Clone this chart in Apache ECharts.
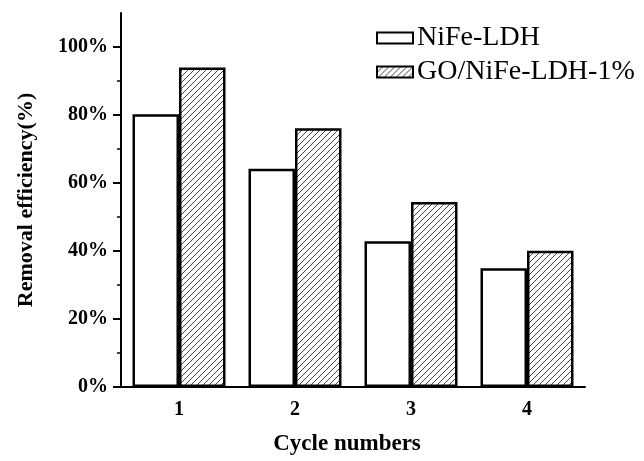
<!DOCTYPE html>
<html>
<head>
<meta charset="utf-8">
<script src="https://cdn.jsdelivr.net/npm/echarts@6/dist/echarts.min.js"></script>
<style>
  html, body { margin: 0; padding: 0; background: #fff; }
  #chart { width: 644px; height: 461px; }
</style>
</head>
<body>
<div id="chart"></div>
<script>
// Removal efficiency over repeated cycles
const cycles = ['1', '2', '3', '4'];
const nifeLdh = [80.2, 64.2, 42.9, 34.9];
const goNifeLdh = [94.0, 76.1, 54.4, 40.1];
const seriesNames = ['NiFe-LDH', 'GO/NiFe-LDH-1%'];
const yTicks = [0, 20, 40, 60, 80, 100];

const serif = "'Liberation Serif', 'Times New Roman', serif";

// Diagonal hatch fill for the composite material
function hatchPattern() {
  const s = 6;
  const c = document.createElement('canvas');
  c.width = s; c.height = s;
  const g = c.getContext('2d');
  g.fillStyle = '#fff';
  g.fillRect(0, 0, s, s);
  g.strokeStyle = '#444';
  g.lineWidth = 1;
  g.beginPath();
  g.moveTo(0, s); g.lineTo(s, 0);
  g.moveTo(-1, 1); g.lineTo(1, -1);
  g.moveTo(s - 1, s + 1); g.lineTo(s + 1, s - 1);
  g.stroke();
  return c;
}

const chart = echarts.init(document.getElementById('chart'), null, { renderer: 'canvas' });

chart.setOption({
  animation: false,
  backgroundColor: '#fff',
  grid: { left: 121, right: 59, top: 13, bottom: 72, containLabel: false },
  legend: {
    orient: 'vertical',
    left: 376,
    top: 24,
    padding: 0,
    itemWidth: 36,
    itemHeight: 11,
    itemGap: 6,
    icon: 'rect',
    textStyle: { fontFamily: serif, fontSize: 28, color: '#000', padding: [0, 0, 0, -1] },
    data: seriesNames
  },
  xAxis: [{
    type: 'category',
    data: cycles,
    boundaryGap: true,
    name: 'Cycle numbers',
    nameLocation: 'middle',
    nameGap: 46,
    nameTextStyle: { fontFamily: serif, fontSize: 23, fontWeight: 'bold', color: '#000', padding: [0, 12, 0, 0] },
    axisLine: { lineStyle: { color: '#000', width: 2 } },
    axisTick: { alignWithLabel: true, length: 8, lineStyle: { color: '#000', width: 2 } },
    axisLabel: { margin: 13, fontFamily: serif, fontSize: 20, fontWeight: 'bold', color: '#000' },
    splitLine: { show: false }
  }, {
    // short ticks on the category boundaries
    type: 'category',
    data: cycles,
    position: 'bottom',
    boundaryGap: true,
    axisLine: { show: false },
    axisTick: { alignWithLabel: false, length: 3, lineStyle: { color: '#000', width: 1.5 } },
    axisLabel: { show: false },
    splitLine: { show: false }
  }],
  yAxis: {
    type: 'value',
    min: 0,
    max: 110,
    interval: 20,
    name: 'Removal efficiency(%)',
    nameLocation: 'middle',
    nameGap: 84,
    nameTextStyle: { fontFamily: serif, fontSize: 22, fontWeight: 'bold', color: '#000' },
    axisLine: { show: true, lineStyle: { color: '#000', width: 2 } },
    axisTick: { show: true, length: 8, customValues: yTicks, lineStyle: { color: '#000', width: 2 } },
    minorTick: { show: true, splitNumber: 2, length: 4, lineStyle: { color: '#000', width: 1.5 } },
    axisLabel: {
      margin: 13,
      customValues: yTicks,
      fontFamily: serif, fontSize: 20, fontWeight: 'bold', color: '#000',
      formatter: v => v + '%'
    },
    splitLine: { show: false },
    minorSplitLine: { show: false }
  },
  series: [{
    name: seriesNames[0],
    type: 'bar',
    data: nifeLdh,
    barWidth: 46.5,
    barGap: '0%',
    itemStyle: { color: '#fff', borderColor: '#000', borderWidth: 2.5 }
  }, {
    name: seriesNames[1],
    type: 'bar',
    data: goNifeLdh,
    barWidth: 46.5,
    barGap: '0%',
    itemStyle: {
      color: { image: hatchPattern(), repeat: 'repeat' },
      borderColor: '#000',
      borderWidth: 2.5
    }
  }]
});
</script>
</body>
</html>
